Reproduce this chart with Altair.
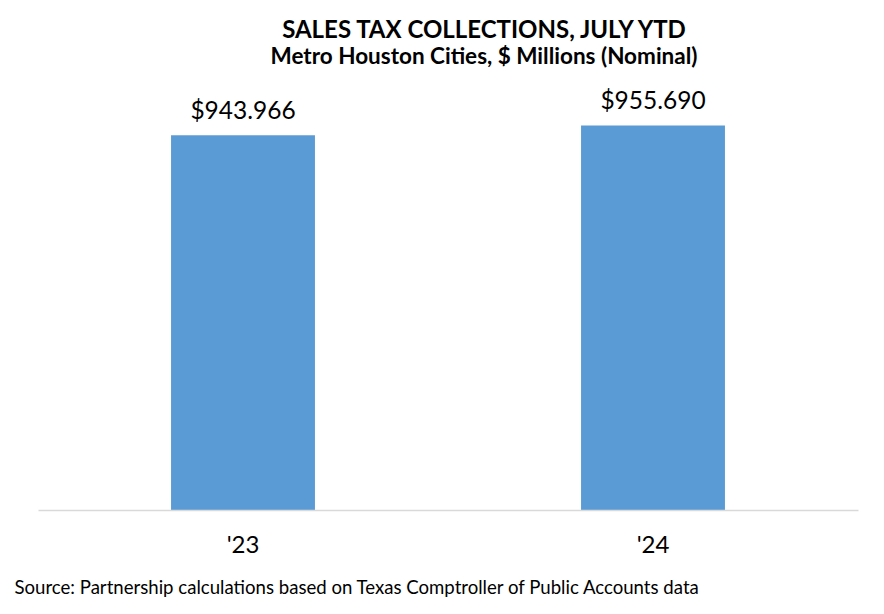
import altair as alt
import pandas as pd

years = ["'23", "'24"]
values = [943.966, 955.690]
labels = ["$943.966", "$955.690"]

df = pd.DataFrame({"year": years, "value": values, "label": labels})

FONT = "Lato"

base = alt.Chart(df).encode(
    x=alt.X(
        "year:N",
        sort=years,
        scale=alt.Scale(paddingInner=0.649, paddingOuter=0.3245),
        axis=alt.Axis(
            title="Source: Partnership calculations based on Texas Comptroller of Public Accounts data",
            titleFont=FONT,
            titleFontSize=18.6,
            titleFontWeight="normal",
            titleColor="#000000",
            titleAnchor="start",
            titleAlign="left",
            titleBaseline="alphabetic",
            titleX=-24,
            titleY=83,
            labelFont=FONT,
            labelFontSize=24,
            labelColor="#000000",
            labelAngle=0,
            labelPadding=23,
            ticks=False,
            domainColor="#D9D9D9",
            domainWidth=1.5,
            grid=False,
            zindex=1,
        ),
    ),
    y=alt.Y(
        "value:Q",
        scale=alt.Scale(domain=[500, 1000], zero=False, nice=False),
        axis=None,
    ),
)

bars = base.mark_bar(color="#5B9BD5", clip=True)
text = base.mark_text(
    baseline="alphabetic", dy=-16, font=FONT, fontSize=24.5, color="#000000"
).encode(text="label:N")

chart = (
    (bars + text)
    .properties(
        width=820,
        height=422,
        padding={"left": 30, "top": 80, "right": 18, "bottom": 90},
        autosize=alt.AutoSizeParams(type="none"),
        title=alt.TitleParams(
            text="SALES TAX COLLECTIONS, JULY YTD",
            subtitle="Metro Houston Cities, $ Millions (Nominal)",
            font=FONT,
            fontSize=24,
            fontWeight="bold",
            color="#000000",
            subtitleFont=FONT,
            subtitleFontSize=22.5,
            subtitleFontWeight="bold",
            subtitleColor="#000000",
            subtitlePadding=3,
            anchor="middle",
            frame="group",
            dx=36,
            offset=20,
        ),
    )
    .configure_view(stroke=None)
)

chart.save("out.html", embed_options={"renderer": "svg", "actions": False})
